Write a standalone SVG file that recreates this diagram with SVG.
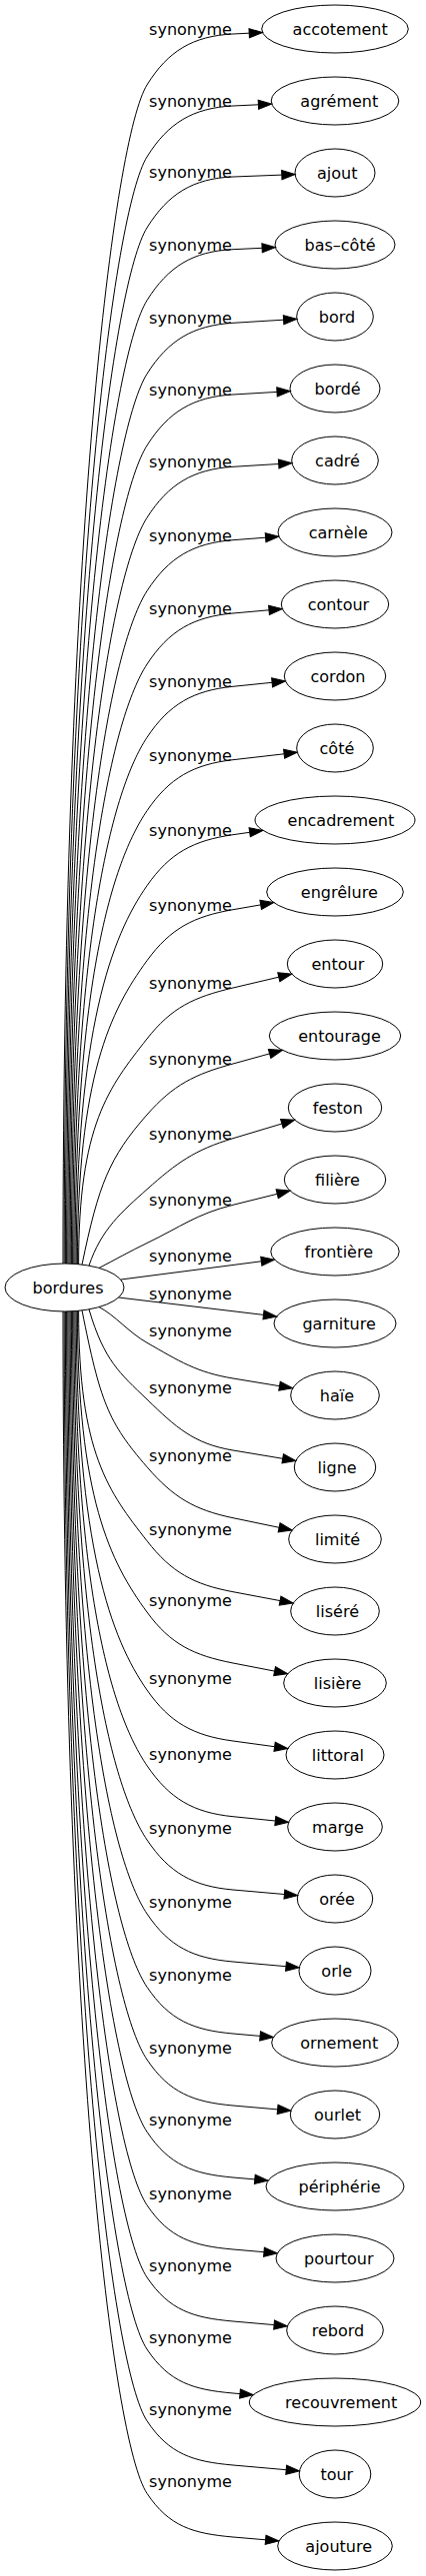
<svg xmlns="http://www.w3.org/2000/svg" width="426" height="2579" viewBox="0 0 426 2579">
<style>
text{font-family:"DejaVu Sans","Liberation Sans",sans-serif;font-size:16px;fill:#000;text-anchor:middle}
.node ellipse{fill:none;stroke:#000;stroke-width:1}
#edges path{fill:none;stroke:#000;stroke-width:1;marker-end:url(#ah)}
</style>
<defs>
<marker id="ah" markerUnits="userSpaceOnUse" markerWidth="14" markerHeight="10" viewBox="0 0 14 10" refX="0" refY="5" orient="auto" overflow="visible">
<path d="M0,0.4 L13.3,5 L0,9.6 z" fill="#000" stroke="#000" stroke-width="1"/>
</marker>
</defs>
<rect width="426" height="2579" fill="#fff"/>
<g id="edges">
<path d="M63,1265 C63,533 114.4,137.7 147,85 C168,51 193,36 233,34 L249.2,33.2"/>
<path d="M64.2,1265 C64.2,578 114.3,209.7 147,157 C168.1,123 193,108 233,106 L258.4,104.8"/>
<path d="M65.4,1265 C65.4,622 114.2,280.6 147,228 C168.1,194 193,178.6 233,177 L281.8,175.1"/>
<path d="M66.6,1265 C66.6,667.1 114.1,353.3 147,300.7 C168.2,266.8 193,251.5 233,249.7 L262.1,248.3"/>
<path d="M67.8,1265 C67.8,712.8 114,426.8 147,374.3 C168.3,340.5 193.1,325.8 233,323.3 L283.6,320.2"/>
<path d="M69,1265.1 C69,757.2 113.8,498.4 147,446 C168.4,412.2 193.1,397.3 233,395 L277,392.4"/>
<path d="M70.2,1265.1 C70.2,802 113.6,570.5 147,518.3 C168.5,484.6 193.1,469.8 233,467.3 L278.7,464.5"/>
<path d="M71.4,1265.2 C71.4,847.6 113.4,643.8 147,591.7 C168.7,558.1 193.1,543.7 233,540.7 L265.6,538.2"/>
<path d="M72.6,1265.2 C72.6,893 113.1,716.9 147,665 C168.9,631.5 193.2,617.5 233,614 L269,610.8"/>
<path d="M73.8,1265.3 C73.8,938.6 112.7,789.9 147,738.3 C169.1,705 193.2,691.3 233,687.3 L272.1,683.3"/>
<path d="M75,1265.4 C75,984.1 112.2,863 147,811.7 C169.5,778.6 193.3,765.3 233,760.7 L284.1,754.8"/>
<path d="M76.2,1265.5 C76.2,1030.6 111.5,937.5 147,886.7 C169.9,853.9 193.4,841.4 233,835.7 L249.7,833.3"/>
<path d="M77.4,1265.6 C77.4,1077.2 110.5,1011.8 147,961.7 C170.6,929.4 193.6,917.5 233,910.7 L260.7,905.9"/>
<path d="M78.6,1265.7 C78.6,1125.8 108.8,1088.8 147,1040 C171.7,1008.5 194.1,998.2 233,989 L278.8,978.2"/>
<path d="M82,1266.1 C98.6,1186 109.1,1159 147,1116 C173.4,1086 194.4,1075.6 233,1065 L269.6,1054.9"/>
<path d="M89,1267.1 C101.2,1230.7 121.9,1213.1 147,1190.7 C176.8,1164.1 194.7,1151.2 233,1139.7 L281.9,1125"/>
<path d="M99,1269.5 C115,1261.2 130,1252.7 147,1244.5 C180.9,1228.2 196.5,1215.4 233,1206.3 L277.2,1195.3"/>
<path d="M121,1281 L261.3,1262.8"/>
<path d="M118.6,1299 L263.5,1316.4"/>
<path d="M99,1308.5 C115,1316.8 128.7,1333.9 147,1344.3 C179.3,1362.7 196.3,1373.9 233,1380 L279.5,1387.7"/>
<path d="M89,1310.9 C104.1,1362.3 120,1375 147,1401 C175.8,1428.8 193.5,1445.4 233,1452 L282.7,1460.3"/>
<path d="M82,1311.9 C100.2,1403.4 108.1,1423.8 147,1468.7 C173.2,1498.9 193.8,1511.5 233,1519.7 L279.1,1529.3"/>
<path d="M78.6,1312.3 C78.6,1455.2 108.9,1493.8 147,1542.7 C171.6,1574.3 193.7,1586.3 233,1593.7 L280.1,1602.6"/>
<path d="M77.4,1312.4 C77.4,1499.4 110.4,1563.9 147,1614 C170.6,1646.3 193.7,1657.3 233,1665 L274.6,1673.1"/>
<path d="M76.2,1312.5 C76.2,1547.8 111.5,1641.2 147,1692 C169.9,1724.8 193.4,1737.6 233,1743 L274.6,1748.7"/>
<path d="M75,1312.6 C75,1594.8 112.2,1716.4 147,1767.7 C169.5,1800.8 193.2,1814.7 233,1818.7 L275.3,1823"/>
<path d="M73.8,1312.7 C73.8,1640.9 112.5,1790.5 147,1842 C169.3,1875.2 193.2,1888.5 233,1892 L284.4,1896.5"/>
<path d="M72.6,1312.8 C72.6,1686.8 112.4,1864.6 147,1916 C169.3,1949.2 193.2,1960.5 233,1964 L286,1968.7"/>
<path d="M71.4,1312.8 C71.4,1732.2 112.4,1937.9 147,1989.3 C169.3,2022.5 193.2,2032.5 233,2036 L260.1,2038.4"/>
<path d="M70.2,1312.9 C70.2,1777.3 112.5,2010.5 147,2062 C169.3,2095.2 193.2,2104.5 233,2108 L277.6,2111.9"/>
<path d="M69,1312.9 C69,1822.2 112.6,2082.7 147,2134.3 C169.2,2167.6 193.2,2176.5 233,2180 L254.8,2181.9"/>
<path d="M67.8,1313 C67.8,1867.7 112.4,2156.2 147,2207.7 C169.3,2240.9 193.2,2248.5 233,2252 L264,2254.7"/>
<path d="M66.6,1313 C66.6,1912.5 112.5,2228.5 147,2280 C169.3,2313.2 193.2,2320.5 233,2324 L274.1,2327.6"/>
<path d="M65.4,1313 C65.4,1957.2 112.6,2300.4 147,2352 C169.2,2385.3 193.2,2392.5 233,2396 L240,2396.6"/>
<path d="M64.2,1313 C64.2,2001.6 112.8,2372 147,2423.7 C169.1,2457.1 193.2,2464.5 233,2468 L286.2,2472.7"/>
<path d="M63,1313 C63,2046.6 112.7,2444.6 147,2496.3 C169.1,2529.6 193.2,2536.5 233,2540 L265.6,2542.8"/>
</g>
<g id="edge-labels">
<text x="190.5" y="35">synonyme</text>
<text x="190.5" y="107">synonyme</text>
<text x="190.5" y="178">synonyme</text>
<text x="190.5" y="250.7">synonyme</text>
<text x="190.5" y="324.3">synonyme</text>
<text x="190.5" y="396">synonyme</text>
<text x="190.5" y="468.3">synonyme</text>
<text x="190.5" y="541.7">synonyme</text>
<text x="190.5" y="615">synonyme</text>
<text x="190.5" y="688.3">synonyme</text>
<text x="190.5" y="761.7">synonyme</text>
<text x="190.5" y="836.7">synonyme</text>
<text x="190.5" y="911.7">synonyme</text>
<text x="190.5" y="990">synonyme</text>
<text x="190.5" y="1066">synonyme</text>
<text x="190.5" y="1140.7">synonyme</text>
<text x="190.5" y="1207.3">synonyme</text>
<text x="190.5" y="1263.3">synonyme</text>
<text x="190.5" y="1300.7">synonyme</text>
<text x="190.5" y="1338.3">synonyme</text>
<text x="190.5" y="1395">synonyme</text>
<text x="190.5" y="1462.7">synonyme</text>
<text x="190.5" y="1536.7">synonyme</text>
<text x="190.5" y="1608">synonyme</text>
<text x="190.5" y="1686">synonyme</text>
<text x="190.5" y="1761.7">synonyme</text>
<text x="190.5" y="1836">synonyme</text>
<text x="190.5" y="1910">synonyme</text>
<text x="190.5" y="1983.3">synonyme</text>
<text x="190.5" y="2056">synonyme</text>
<text x="190.5" y="2128.3">synonyme</text>
<text x="190.5" y="2201.7">synonyme</text>
<text x="190.5" y="2274">synonyme</text>
<text x="190.5" y="2346">synonyme</text>
<text x="190.5" y="2417.7">synonyme</text>
<text x="190.5" y="2490.3">synonyme</text>
</g>
<g id="n-bordures" class="node"><ellipse cx="64.5" cy="1289" rx="59.5" ry="24"/><text x="68" y="1294.5">bordures</text></g>
<g id="n-accotement" class="node"><ellipse cx="335" cy="29" rx="73.3" ry="24"/><text x="340.2" y="34.5">accotement</text></g>
<g id="n-agrement" class="node"><ellipse cx="335" cy="101" rx="63.8" ry="24"/><text x="339.3" y="106.5">agrément</text></g>
<g id="n-ajout" class="node"><ellipse cx="335" cy="173" rx="40" ry="24"/><text x="337.2" y="178.5">ajout</text></g>
<g id="n-bas-cote" class="node"><ellipse cx="335" cy="245" rx="60" ry="24"/><text x="340" y="250.5">bas–côté</text></g>
<g id="n-bord" class="node"><ellipse cx="335" cy="317" rx="38.3" ry="24"/><text x="337" y="322.5">bord</text></g>
<g id="n-borde" class="node"><ellipse cx="335" cy="389" rx="45" ry="24"/><text x="337.6" y="394.5">bordé</text></g>
<g id="n-cadre" class="node"><ellipse cx="335" cy="461" rx="43.3" ry="24"/><text x="337.5" y="466.5">cadré</text></g>
<g id="n-carnele" class="node"><ellipse cx="335" cy="533" rx="57" ry="24"/><text x="338.3" y="538.5">carnèle</text></g>
<g id="n-contour" class="node"><ellipse cx="335" cy="605" rx="53.7" ry="24"/><text x="338.4" y="610.5">contour</text></g>
<g id="n-cordon" class="node"><ellipse cx="335" cy="677" rx="50.7" ry="24"/><text x="338" y="682.5">cordon</text></g>
<g id="n-cote" class="node"><ellipse cx="335" cy="749" rx="38.3" ry="24"/><text x="336.9" y="754.5">côté</text></g>
<g id="n-encadrement" class="node"><ellipse cx="335" cy="821" rx="80" ry="24"/><text x="340.9" y="826.5">encadrement</text></g>
<g id="n-engrelure" class="node"><ellipse cx="335" cy="893" rx="68.3" ry="24"/><text x="339.3" y="898.5">engrêlure</text></g>
<g id="n-entour" class="node"><ellipse cx="335" cy="965" rx="47.7" ry="24"/><text x="337.9" y="970.5">entour</text></g>
<g id="n-entourage" class="node"><ellipse cx="335" cy="1037" rx="65.7" ry="24"/><text x="339.5" y="1042.5">entourage</text></g>
<g id="n-feston" class="node"><ellipse cx="335" cy="1109" rx="46.7" ry="24"/><text x="337.8" y="1114.5">feston</text></g>
<g id="n-filiere" class="node"><ellipse cx="335" cy="1181" rx="50.7" ry="24"/><text x="337.5" y="1186.5">filière</text></g>
<g id="n-frontiere" class="node"><ellipse cx="335" cy="1253" rx="64.2" ry="24"/><text x="338.8" y="1258.5">frontière</text></g>
<g id="n-garniture" class="node"><ellipse cx="335" cy="1325" rx="61" ry="24"/><text x="339.1" y="1330.5">garniture</text></g>
<g id="n-haie" class="node"><ellipse cx="335" cy="1397" rx="44.3" ry="24"/><text x="336.9" y="1402.5">haïe</text></g>
<g id="n-ligne" class="node"><ellipse cx="335" cy="1469" rx="40.7" ry="24"/><text x="337.1" y="1474.5">ligne</text></g>
<g id="n-limite" class="node"><ellipse cx="335" cy="1541" rx="46.3" ry="24"/><text x="337.5" y="1546.5">limité</text></g>
<g id="n-lisere" class="node"><ellipse cx="335" cy="1613" rx="44.3" ry="24"/><text x="337.4" y="1618.5">liséré</text></g>
<g id="n-lisiere" class="node"><ellipse cx="335" cy="1685" rx="51.3" ry="24"/><text x="337.6" y="1690.5">lisière</text></g>
<g id="n-littoral" class="node"><ellipse cx="335" cy="1757" rx="49" ry="24"/><text x="337.9" y="1762.5">littoral</text></g>
<g id="n-marge" class="node"><ellipse cx="335" cy="1829" rx="47.3" ry="24"/><text x="337.9" y="1834.5">marge</text></g>
<g id="n-oree" class="node"><ellipse cx="335" cy="1901" rx="37.7" ry="24"/><text x="337" y="1906.5">orée</text></g>
<g id="n-orle" class="node"><ellipse cx="335" cy="1973" rx="36" ry="24"/><text x="336.7" y="1978.5">orle</text></g>
<g id="n-ornement" class="node"><ellipse cx="335" cy="2045" rx="63.3" ry="24"/><text x="339.3" y="2050.5">ornement</text></g>
<g id="n-ourlet" class="node"><ellipse cx="335" cy="2117" rx="44.7" ry="24"/><text x="337.6" y="2122.5">ourlet</text></g>
<g id="n-peripherie" class="node"><ellipse cx="335" cy="2189" rx="69" ry="24"/><text x="339.5" y="2194.5">périphérie</text></g>
<g id="n-pourtour" class="node"><ellipse cx="335" cy="2261" rx="59" ry="24"/><text x="338.8" y="2266.5">pourtour</text></g>
<g id="n-rebord" class="node"><ellipse cx="335" cy="2333" rx="48.3" ry="24"/><text x="337.9" y="2338.5">rebord</text></g>
<g id="n-recouvrement" class="node"><ellipse cx="335" cy="2405" rx="85.7" ry="24"/><text x="341.2" y="2410.5">recouvrement</text></g>
<g id="n-tour" class="node"><ellipse cx="335" cy="2477" rx="35.8" ry="24"/><text x="336.8" y="2482.5">tour</text></g>
<g id="n-ajouture" class="node"><ellipse cx="335" cy="2549" rx="57.3" ry="24"/><text x="338.7" y="2554.5">ajouture</text></g>
</svg>
